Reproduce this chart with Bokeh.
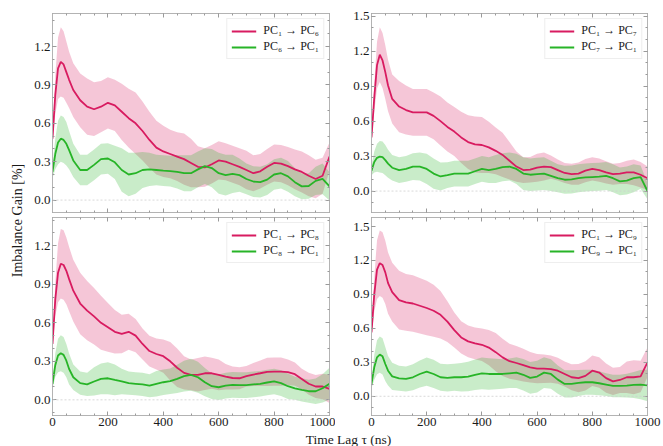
import numpy as np
from bokeh.plotting import figure
from bokeh.layouts import row, column
from bokeh.models import (Range1d, FixedTicker, LinearAxis, Span, Legend,
                          LegendItem, PrintfTickFormatter)
from bokeh.core.properties import value
from bokeh.embed import file_html
from bokeh.resources import INLINE

# ---------------------------------------------------------------- data
# time lag grid (ns)
tau = [0, 10, 20, 30, 40, 50, 60, 75] + list(range(100, 1001, 25))

# PC1 <-> PC6
fwd6_mean = [0.48, 0.82, 1.03, 1.08, 1.06, 1.00, 0.94, 0.86,
             0.78, 0.73, 0.71, 0.73, 0.76, 0.74, 0.69, 0.64, 0.60, 0.54,
             0.47, 0.41, 0.38, 0.36, 0.34, 0.32, 0.29, 0.26, 0.255, 0.28,
             0.31, 0.30, 0.28, 0.26, 0.235, 0.21, 0.225, 0.26, 0.29, 0.285,
             0.265, 0.24, 0.22, 0.19, 0.165, 0.19, 0.34]
fwd6_err = [0.03, 0.15, 0.24, 0.27, 0.26, 0.24, 0.22, 0.21,
            0.21, 0.22, 0.21, 0.20, 0.20, 0.20, 0.22, 0.23, 0.24, 0.23,
            0.22, 0.21, 0.20, 0.19, 0.19, 0.20, 0.19, 0.16, 0.15, 0.15,
            0.15, 0.145, 0.145, 0.145, 0.15, 0.14, 0.135, 0.14, 0.145, 0.145,
            0.15, 0.155, 0.16, 0.16, 0.15, 0.14, 0.11]
rev6_mean = [0.22, 0.36, 0.45, 0.48, 0.47, 0.44, 0.39, 0.31,
             0.235, 0.235, 0.275, 0.32, 0.325, 0.295, 0.235, 0.20, 0.21, 0.235,
             0.24, 0.235, 0.23, 0.227, 0.22, 0.21, 0.21, 0.24, 0.265, 0.25,
             0.21, 0.195, 0.205, 0.195, 0.165, 0.145, 0.14, 0.16, 0.20, 0.21,
             0.185, 0.14, 0.107, 0.11, 0.15, 0.165, 0.107]
rev6_err = [0.05, 0.12, 0.17, 0.18, 0.18, 0.17, 0.15, 0.13,
            0.12, 0.12, 0.12, 0.12, 0.12, 0.13, 0.17, 0.17, 0.16, 0.14,
            0.13, 0.12, 0.12, 0.12, 0.13, 0.14, 0.14, 0.14, 0.14, 0.15,
            0.16, 0.16, 0.15, 0.13, 0.12, 0.12, 0.12, 0.12, 0.12, 0.12,
            0.12, 0.11, 0.10, 0.10, 0.11, 0.12, 0.11]

# PC1 <-> PC7
fwd7_mean = [0.46, 0.80, 1.08, 1.17, 1.12, 1.02, 0.905, 0.79,
             0.725, 0.695, 0.675, 0.675, 0.675, 0.645, 0.60, 0.55, 0.51, 0.46,
             0.42, 0.40, 0.395, 0.375, 0.345, 0.31, 0.26, 0.21, 0.18, 0.183,
             0.20, 0.21, 0.205, 0.18, 0.155, 0.145, 0.15, 0.175, 0.19, 0.18,
             0.16, 0.145, 0.15, 0.16, 0.16, 0.14, 0.11]
fwd7_err = [0.03, 0.12, 0.20, 0.235, 0.235, 0.23, 0.22, 0.21,
            0.22, 0.21, 0.20, 0.20, 0.20, 0.20, 0.21, 0.21, 0.21, 0.22,
            0.23, 0.24, 0.24, 0.22, 0.20, 0.19, 0.16, 0.13, 0.11, 0.11,
            0.12, 0.12, 0.10, 0.09, 0.085, 0.09, 0.095, 0.10, 0.10, 0.10,
            0.095, 0.09, 0.09, 0.10, 0.11, 0.11, 0.10]
rev7_mean = [0.175, 0.25, 0.285, 0.295, 0.29, 0.265, 0.235, 0.20,
             0.18, 0.19, 0.21, 0.21, 0.19, 0.15, 0.125, 0.137, 0.15, 0.15,
             0.15, 0.17, 0.19, 0.18, 0.19, 0.205, 0.21, 0.19, 0.15, 0.14,
             0.145, 0.15, 0.13, 0.11, 0.097, 0.10, 0.11, 0.117, 0.12, 0.123,
             0.13, 0.11, 0.083, 0.09, 0.11, 0.12, 0.0]
rev7_err = [0.04, 0.09, 0.12, 0.135, 0.135, 0.13, 0.12, 0.11,
            0.11, 0.11, 0.115, 0.12, 0.13, 0.13, 0.12, 0.11, 0.11, 0.11,
            0.11, 0.11, 0.11, 0.11, 0.12, 0.12, 0.12, 0.13, 0.14, 0.14,
            0.14, 0.14, 0.13, 0.12, 0.12, 0.12, 0.12, 0.12, 0.12, 0.12,
            0.12, 0.12, 0.12, 0.12, 0.12, 0.10, 0.07]

# PC1 <-> PC8
fwd8_mean = [0.435, 0.78, 0.99, 1.06, 1.05, 1.005, 0.94, 0.85,
             0.75, 0.695, 0.65, 0.60, 0.565, 0.53, 0.513, 0.53, 0.50, 0.435,
             0.38, 0.357, 0.34, 0.30, 0.25, 0.21, 0.195, 0.195, 0.207, 0.207,
             0.195, 0.18, 0.17, 0.168, 0.184, 0.197, 0.207, 0.218, 0.22, 0.22,
             0.215, 0.20, 0.163, 0.125, 0.104, 0.104, 0.085]
fwd8_err = [0.03, 0.13, 0.23, 0.27, 0.27, 0.26, 0.25, 0.24,
            0.24, 0.23, 0.22, 0.21, 0.19, 0.17, 0.15, 0.14, 0.13, 0.12,
            0.12, 0.12, 0.13, 0.15, 0.15, 0.13, 0.12, 0.13, 0.13, 0.12,
            0.12, 0.10, 0.09, 0.085, 0.08, 0.09, 0.10, 0.11, 0.11, 0.11,
            0.10, 0.09, 0.08, 0.085, 0.09, 0.10, 0.11]
rev8_mean = [0.125, 0.27, 0.345, 0.363, 0.35, 0.305, 0.24, 0.176,
             0.13, 0.12, 0.143, 0.163, 0.168, 0.155, 0.143, 0.13, 0.125, 0.12,
             0.11, 0.125, 0.137, 0.145, 0.163, 0.184, 0.195, 0.176, 0.137, 0.106,
             0.098, 0.11, 0.117, 0.114, 0.114, 0.12, 0.125, 0.135, 0.143, 0.13,
             0.106, 0.09, 0.078, 0.067, 0.067, 0.09, 0.125]
rev8_err = [0.04, 0.09, 0.13, 0.14, 0.14, 0.13, 0.12, 0.10,
            0.09, 0.09, 0.11, 0.12, 0.125, 0.12, 0.10, 0.09, 0.09, 0.09,
            0.09, 0.10, 0.10, 0.10, 0.11, 0.12, 0.125, 0.12, 0.11, 0.10,
            0.10, 0.10, 0.10, 0.10, 0.10, 0.10, 0.10, 0.10, 0.10, 0.10,
            0.10, 0.09, 0.09, 0.09, 0.10, 0.11, 0.125]

# PC1 <-> PC9
fwd9_mean = [0.565, 0.90, 1.12, 1.176, 1.16, 1.095, 1.00, 0.92,
             0.85, 0.83, 0.82, 0.80, 0.78, 0.756, 0.72, 0.66, 0.585, 0.52,
             0.485, 0.467, 0.455, 0.43, 0.39, 0.344, 0.31, 0.294, 0.276, 0.256,
             0.244, 0.244, 0.24, 0.226, 0.197, 0.168, 0.16, 0.18, 0.226, 0.21,
             0.16, 0.132, 0.144, 0.168, 0.168, 0.175, 0.30]
fwd9_err = [0.04, 0.15, 0.26, 0.29, 0.29, 0.28, 0.27, 0.26,
            0.26, 0.25, 0.25, 0.245, 0.24, 0.23, 0.21, 0.18, 0.155, 0.143,
            0.14, 0.14, 0.143, 0.155, 0.17, 0.165, 0.155, 0.15, 0.145, 0.135,
            0.13, 0.126, 0.12, 0.115, 0.11, 0.115, 0.125, 0.13, 0.135, 0.135,
            0.13, 0.12, 0.115, 0.14, 0.15, 0.14, 0.13]
rev9_mean = [0.11, 0.256, 0.344, 0.368, 0.353, 0.285, 0.226, 0.176,
             0.159, 0.153, 0.168, 0.197, 0.218, 0.197, 0.168, 0.162, 0.168, 0.168,
             0.174, 0.19, 0.203, 0.197, 0.197, 0.197, 0.203, 0.209, 0.19, 0.162,
             0.174, 0.209, 0.197, 0.147, 0.109, 0.109, 0.118, 0.124, 0.124, 0.115,
             0.103, 0.091, 0.091, 0.094, 0.10, 0.103, 0.097]
rev9_err = [0.04, 0.11, 0.15, 0.16, 0.16, 0.15, 0.13, 0.12,
            0.11, 0.11, 0.115, 0.12, 0.125, 0.125, 0.12, 0.12, 0.12, 0.125,
            0.13, 0.135, 0.14, 0.14, 0.135, 0.13, 0.13, 0.135, 0.14, 0.14,
            0.14, 0.135, 0.13, 0.125, 0.12, 0.12, 0.115, 0.11, 0.11, 0.105,
            0.10, 0.10, 0.10, 0.105, 0.115, 0.13, 0.14]

x_ticks = [0, 200, 400, 600, 800, 1000]
y_ticks_left = [0.0, 0.3, 0.6, 0.9, 1.2]
y_ticks_right = [0.0, 0.3, 0.6, 0.9, 1.2, 1.5]

# ---------------------------------------------------------------- style
FONT = "Liberation Serif"
PINK = "#D81B60"
GREEN = "#27B427"
FRAME = "#b3b3b3"
TICK = "#9a9a9a"
TEXT = "#1a1a1a"


def make_axis(ticker, fmt, labelled):
    ax = LinearAxis(ticker=ticker, formatter=PrintfTickFormatter(format=fmt))
    ax.axis_line_color = FRAME
    ax.major_tick_line_color = TICK
    ax.minor_tick_line_color = TICK
    ax.major_tick_in = 4
    ax.major_tick_out = 0
    ax.minor_tick_in = 2
    ax.minor_tick_out = 0
    if labelled:
        ax.major_label_text_font = FONT
        ax.major_label_text_font_size = "13px"
        ax.major_label_text_color = TEXT
        ax.major_label_standoff = 2
    else:
        # tick marks only on the opposite spines
        ax.major_label_overrides = {t: "" for t in ticker.ticks}
        ax.major_label_text_font_size = "1px"
        ax.major_label_standoff = 0
    return ax


def panel(fwd_mean, fwd_err, rev_mean, rev_err, k, ylim, yticks,
          width, height, borders, show_x):
    left, right, top, bottom = borders
    p = figure(width=width, height=height, output_backend="svg",
               toolbar_location=None, x_range=Range1d(0, 1000),
               y_range=Range1d(*ylim), x_axis_location=None,
               y_axis_location=None, min_border_left=left,
               min_border_right=right, min_border_top=top,
               min_border_bottom=bottom)
    p.xgrid.visible = False
    p.ygrid.visible = False
    p.outline_line_color = FRAME
    p.background_fill_color = "white"
    p.border_fill_color = "white"

    xt = FixedTicker(ticks=x_ticks, minor_ticks=list(range(0, 1001, 50)))
    ymax = yticks[-1] + 0.3
    yt = FixedTicker(ticks=yticks,
                     minor_ticks=[round(0.1 * i, 1) for i in range(-2, int(ymax * 10) + 1)])
    p.add_layout(make_axis(xt, "%d", show_x), "below")
    p.add_layout(make_axis(xt, "%d", False), "above")
    p.add_layout(make_axis(yt, "%.1f", True), "left")
    p.add_layout(make_axis(yt, "%.1f", False), "right")

    p.add_layout(Span(location=0, dimension="width", line_color="#cfcfcf",
                      line_dash="2 2", line_width=0.8))

    fm, fe = np.array(fwd_mean), np.array(fwd_err)
    rm, re_ = np.array(rev_mean), np.array(rev_err)
    p.varea(x=tau, y1=fm - fe, y2=fm + fe, fill_color=PINK, fill_alpha=0.25)
    p.varea(x=tau, y1=rm - re_, y2=rm + re_, fill_color=GREEN, fill_alpha=0.25)
    r_f = p.line(tau, fwd_mean, line_color=PINK, line_width=1.8)
    r_r = p.line(tau, rev_mean, line_color=GREEN, line_width=1.8)

    legend = Legend(items=[
        LegendItem(label=f"PC\u2081 \u2192 PC{k}", renderers=[r_f]),
        LegendItem(label=f"PC{k} \u2192 PC\u2081", renderers=[r_r]),
    ], location="top_right")
    legend.margin = 5
    legend.padding = 4
    legend.spacing = 1
    legend.glyph_width = 25
    legend.glyph_height = 14
    legend.label_height = 14
    legend.label_standoff = 7
    legend.label_text_font = FONT
    legend.label_text_font_size = "12px"
    legend.label_text_color = TEXT
    legend.border_line_color = "#dddddd"
    legend.background_fill_alpha = 0.85
    p.add_layout(legend)
    return p


tl = panel(fwd6_mean, fwd6_err, rev6_mean, rev6_err, "\u2086", (-0.097, 1.458),
           y_ticks_left, 305, 214, (22, 6, 13, 2), False)
tr = panel(fwd7_mean, fwd7_err, rev7_mean, rev7_err, "\u2087", (-0.184, 1.523),
           y_ticks_right, 328, 214, (36, 16, 13, 2), False)
bl = panel(fwd8_mean, fwd8_err, rev8_mean, rev8_err, "\u2088", (-0.122, 1.42),
           y_ticks_left, 305, 218, (22, 6, 3, 17), True)
br = panel(fwd9_mean, fwd9_err, rev9_mean, rev9_err, "\u2089", (-0.17, 1.58),
           y_ticks_right, 328, 218, (36, 16, 3, 17), True)


def label_fig(width, height):
    f = figure(width=width, height=height, output_backend="svg",
               toolbar_location=None, x_range=Range1d(0, width),
               y_range=Range1d(0, height), x_axis_location=None,
               y_axis_location=None, min_border_left=0, min_border_right=0,
               min_border_top=0, min_border_bottom=0)
    f.xgrid.visible = False
    f.ygrid.visible = False
    f.outline_line_color = None
    f.border_fill_color = "white"
    return f


ylab = label_fig(30, 432)
ylab.text(x=[17], y=[212], text=["Imbalance Gain [%]"], angle=np.pi / 2,
          text_align="center", text_baseline="middle",
          text_font=value(FONT), text_font_size="14px", text_color=TEXT)

xlab = label_fig(663, 14)
xlab.text(x=[348], y=[7.5], text=["Time Lag \u03c4 (ns)"],
          text_align="center", text_baseline="middle",
          text_font=value(FONT), text_font_size="13.5px", text_color=TEXT)

layout = column(row(ylab, column(row(tl, tr), row(bl, br))), xlab)

open("out.html", "w").write(file_html(layout, INLINE))
